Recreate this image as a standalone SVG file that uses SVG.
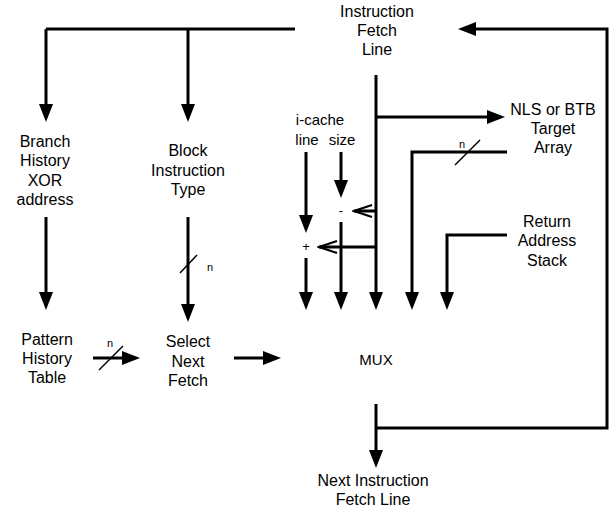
<svg xmlns="http://www.w3.org/2000/svg" width="612" height="510" viewBox="0 0 612 510">
<style>
  text { font-family: "Liberation Sans", Arial, sans-serif; font-size: 16px; fill: #000; text-anchor: middle; }
  text.m { font-size: 15px; }
  text.s { font-size: 11px; }
  text.op { font-size: 13px; }
  .w { stroke: #000; stroke-width: 3; fill: none; }
  .a { stroke: #000; stroke-width: 3; fill: none; marker-end: url(#arr); }
  .o { stroke: #000; stroke-width: 3; fill: none; marker-end: url(#open); }
  .sl { stroke: #000; stroke-width: 1.5; fill: none; }
</style>
<defs>
  <marker id="arr" markerUnits="userSpaceOnUse" markerWidth="18" markerHeight="14" viewBox="0 0 18 14" refX="8" refY="7" orient="auto">
    <path d="M0,0 L18,7 L0,14 z" fill="#000"/>
  </marker>
  <marker id="open" markerUnits="userSpaceOnUse" markerWidth="22" markerHeight="16" viewBox="0 0 22 16" refX="20" refY="8" orient="auto">
    <path d="M2,2 L20,8 L2,14" fill="none" stroke="#000" stroke-width="2.2"/>
  </marker>
</defs>

<g id="connectors">
  <!-- top bus -->
  <path class="w" d="M295,29 H46"/>
  <path class="a" d="M46,29 V112"/>
  <path class="a" d="M188,29 V112"/>
  <!-- feedback loop -->
  <path class="a" d="M376,428 H607 V29 H468"/>
  <!-- main vertical -->
  <path class="a" d="M376,75 V300"/>
  <path class="a" d="M376,117 H495"/>
  <!-- NLS -->
  <path class="a" d="M507,152 H412 V300"/>
  <line class="sl" x1="455" y1="165" x2="480" y2="140"/>
  <!-- RAS -->
  <path class="a" d="M507,235 H447 V300"/>
  <!-- i-cache line size -->
  <path class="a" d="M306,152 V223"/>
  <path class="a" d="M341,152 V188"/>
  <path class="a" d="M306,258 V300"/>
  <path class="a" d="M341,222 V300"/>
  <path class="o" d="M376,211 H354"/>
  <path class="o" d="M376,247 H319"/>
  <!-- left columns -->
  <path class="a" d="M46,217 V300"/>
  <path class="a" d="M188,217 V312"/>
  <line class="sl" x1="180" y1="273" x2="197" y2="255"/>
  <path class="a" d="M93,358 H130"/>
  <line class="sl" x1="99" y1="370" x2="123" y2="346"/>
  <path class="a" d="M234,358 H271"/>
  <!-- MUX out -->
  <path class="a" d="M376,404 V458"/>
</g>

<g id="ifl"><text x="377" y="17">Instruction</text><text x="377" y="36">Fetch</text><text x="377" y="55">Line</text></g>
<g id="nls"><text x="553" y="115">NLS or BTB</text><text x="553" y="134">Target</text><text x="553" y="153">Array</text></g>
<g id="ras"><text x="547" y="227">Return</text><text x="547" y="246">Address</text><text x="547" y="266">Stack</text></g>
<g id="icache"><text class="m" x="320" y="125">i-cache</text><text class="m" x="307" y="145">line</text><text class="m" x="342" y="145">size</text></g>
<g id="bhxor"><text x="45" y="147">Branch</text><text x="45" y="166">History</text><text x="45" y="186">XOR</text><text x="45" y="205">address</text></g>
<g id="bit"><text x="188" y="156">Block</text><text x="188" y="176">Instruction</text><text x="188" y="195">Type</text></g>
<g id="pht"><text x="47" y="345">Pattern</text><text x="47" y="364">History</text><text x="47" y="383">Table</text></g>
<g id="snf"><text x="188" y="347">Select</text><text x="188" y="367">Next</text><text x="188" y="386">Fetch</text></g>
<g id="mux"><text class="m" x="376" y="365">MUX</text></g>
<g id="nifl"><text x="373" y="486">Next Instruction</text><text x="373" y="505">Fetch Line</text></g>
<g id="labels">
  <text class="s" x="110" y="347">n</text>
  <text class="s" x="210" y="271">n</text>
  <text class="s" x="462" y="148">n</text>
  <text class="op" x="306" y="251">+</text>
  <text class="op" x="341" y="215">-</text>
</g>
</svg>
